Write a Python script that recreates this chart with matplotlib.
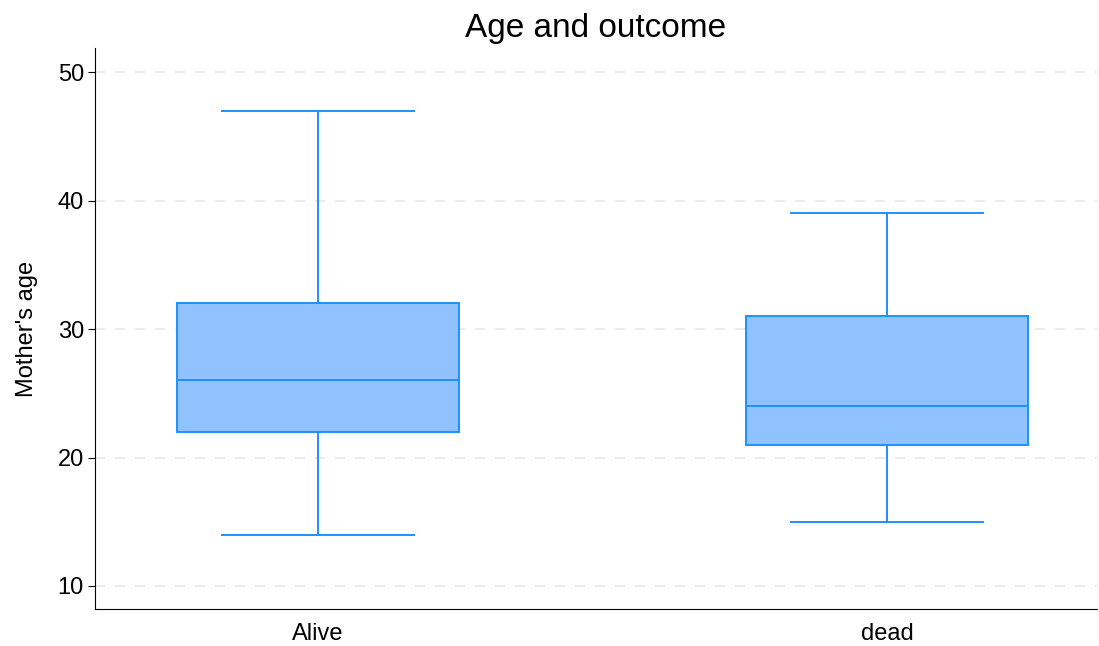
import matplotlib
matplotlib.use("Agg")
import matplotlib.pyplot as plt

plt.rcParams["font.family"] = ["Liberation Sans", "DejaVu Sans"]

# box summary
groups = ["Alive", "dead"]
whisker_low = [14, 15]
q1 = [22, 21]
median = [26, 24]
q3 = [32, 31]
whisker_high = [47, 39]

edge = "#1E90FF"
face = "#90C2FF"

stats = []
for i, name in enumerate(groups):
	stats.append({
		"label": name,
		"whislo": whisker_low[i],
		"q1": q1[i],
		"med": median[i],
		"q3": q3[i],
		"whishi": whisker_high[i],
		"fliers": [],
	})

fig = plt.figure(figsize=(10.99, 6.46), dpi=100)
ax = fig.add_axes([95 / 1099, 37 / 646, 1002 / 1099, 561 / 646])

ax.bxp(
	stats,
	positions=[0, 1],
	widths=0.497,
	capwidths=0.336,
	patch_artist=True,
	showfliers=False,
	boxprops=dict(facecolor=face, edgecolor=edge, linewidth=1.4),
	medianprops=dict(color=edge, linewidth=1.4),
	whiskerprops=dict(color=edge, linewidth=1.4),
	capprops=dict(color=edge, linewidth=1.4),
)

ax.set_xlim(-0.392, 1.369)
ax.set_ylim(8.21, 51.87)
ax.set_yticks([10, 20, 30, 40, 50])
ax.yaxis.grid(True, linestyle=(0, (6, 6)), color="#e6e6e6", linewidth=1.2)
ax.set_axisbelow(True)
for side in ["top", "right"]:
	ax.spines[side].set_visible(False)
ax.tick_params(axis="x", length=0, labelsize=17, pad=10)
ax.tick_params(axis="y", length=5, labelsize=17, direction="out", pad=3)
ax.set_ylabel("Mother's age", fontsize=17, labelpad=14)
ax.set_title("Age and outcome", fontsize=24, pad=8)

fig.savefig("out.png", dpi=100)
